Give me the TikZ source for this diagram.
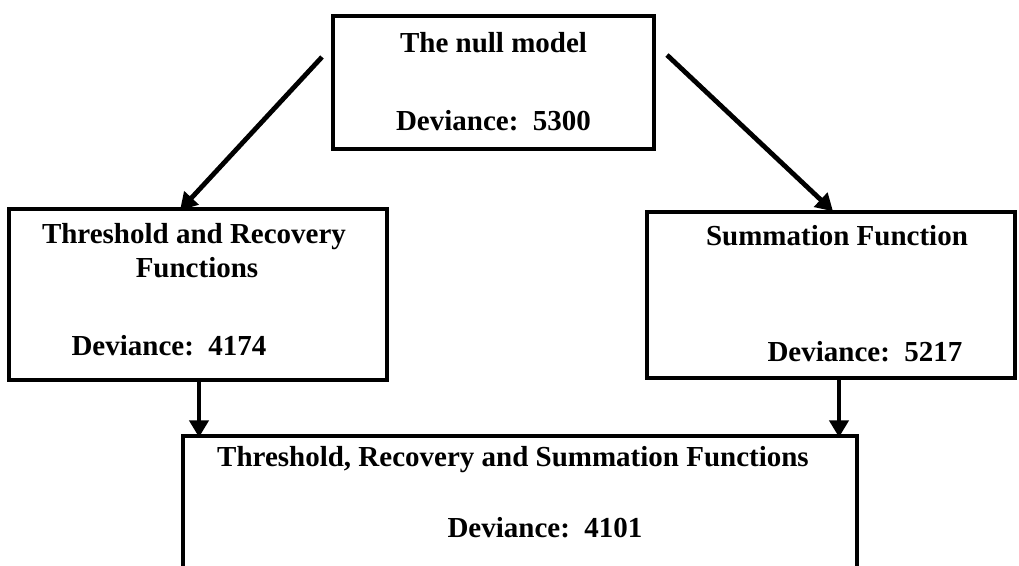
\documentclass[tikz,border=0pt]{standalone}
\usepackage{fontspec}
\setmainfont{Liberation Serif}
\usetikzlibrary{arrows.meta,calc}

\begin{document}
\begin{tikzpicture}[x=1pt,y=-1pt,
  box/.style={draw=black, line width=3.4pt, rectangle, inner sep=0pt},
  lbl/.style={anchor=base, inner sep=0pt, font=\fontsize{29}{34}\selectfont\bfseries},
  arr/.style={line width=4.8pt, -{Triangle[length=17pt,width=19pt]}}]
  \useasboundingbox (0,0) rectangle (1019,565);
  \clip (0,0) rectangle (1019,565);
  \fill[white] (0,0) rectangle (1019,565);

  % model boxes
  \node[box, minimum width=321pt, minimum height=133pt] (null) at (493.5,82.5) {};
  \node[box, minimum width=378pt, minimum height=171pt] (thr)  at (198,294.5) {};
  \node[box, minimum width=368pt, minimum height=166pt] (sum)  at (831,295) {};
  \node[box, minimum width=674pt, minimum height=200pt] (all)  at (520,536) {};

  % box texts
  \node[lbl] (t1) at (493.5,52)  {The null model};
  \node[lbl] (d1) at (493.5,130) {Deviance:\ \ 5300};
  \node[lbl] (t2) at (194,243)   {Threshold and Recovery};
  \node[lbl] (t3) at (197,277)   {Functions};
  \node[lbl] (d2) at (169,355)   {Deviance:\ \ 4174};
  \node[lbl] (t4) at (837,245)   {Summation Function};
  \node[lbl] (d3) at (865,361)   {Deviance:\ \ 5217};
  \node[lbl] (t5) at (513,466)   {Threshold, Recovery and Summation Functions};
  \node[lbl] (d4) at (545,537)   {Deviance:\ \ 4101};

  % connectors
  \coordinate (sL) at (322,57);
  \coordinate (sR) at (667,55);
  \draw[arr] (sL) -- ($(thr.north)+(-18,3)$);
  \draw[arr] (sR) -- ($(sum.north)+(2,1)$);
  \draw[arr] ($(thr.south)+(1,0)$) -- ($(thr.south |- all.north)+(1,3)$);
  \draw[arr] ($(sum.south)+(8,0)$) -- ($(sum.south |- all.north)+(8,3)$);
\end{tikzpicture}
\end{document}
